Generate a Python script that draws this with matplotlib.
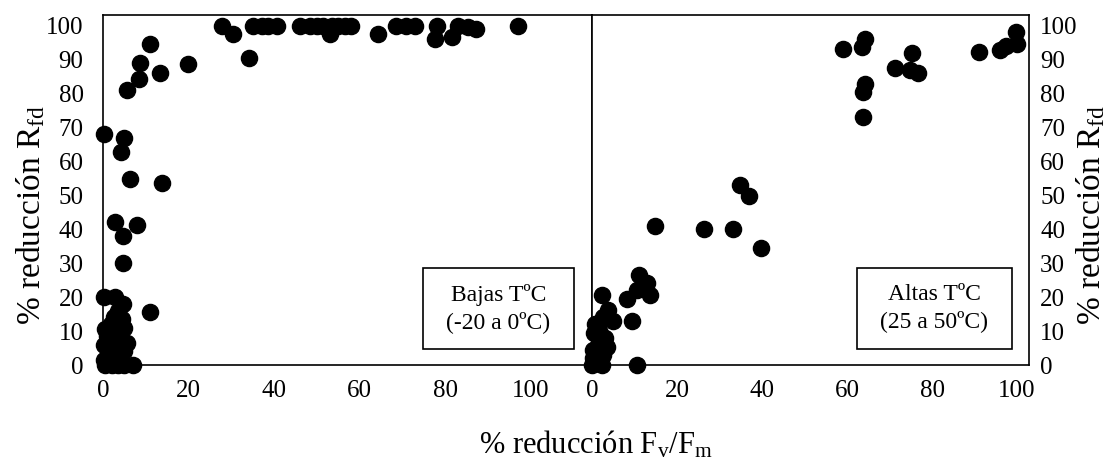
import matplotlib
matplotlib.use("Agg")
import matplotlib.pyplot as plt
from matplotlib.patches import Rectangle

plt.rcParams['font.family'] = ['Liberation Serif', 'DejaVu Serif']
plt.rcParams['mathtext.default'] = 'regular'

# Bajas TºC (-20 a 0ºC)
x_bajas = [27.7, 30.3, 35.1, 37.1, 38.6, 40.6, 34.1, 46, 48.5, 50, 51.5, 53, 53.5, 55, 56.5, 58,
           64.3, 68.5, 70.8, 72.9, 77.6, 78.1, 81.5, 83, 85.4, 87.3, 97,
           11, 8.6, 19.9, 13.3, 8.5, 5.5,
           0.2, 5, 4.2, 6.3, 13.9, 2.8, 8, 4.6, 4.7,
           0.2, 2.8, 4.7, 11, 3.5, 2.5, 4.5, 1.8, 5, 0.5, 3, 1, 4, 2.5, 5.5, 0.3, 3.5, 1.5, 5,
           2.5, 0.3, 4, 0.5, 2, 3.5, 5, 7]
y_bajas = [99.7, 97.5, 99.7, 99.7, 99.7, 99.7, 90.2, 99.7, 99.7, 99.7, 99.7, 97.5, 99.7, 99.7, 99.7, 99.7,
           97.5, 99.7, 99.7, 99.7, 96, 99.7, 96.6, 99.7, 99.5, 98.8, 99.7,
           94.4, 89, 88.7, 85.8, 84.1, 80.9,
           68.1, 66.7, 62.7, 54.7, 53.7, 42.1, 41.2, 38, 30.1,
           20, 20, 18, 15.5, 16, 14, 13.5, 12, 11, 10.5, 10, 8.5, 8, 7, 6.5, 6, 5, 4, 4,
           2.5, 1.5, 1, 0, 0, 0, 0, 0]

# Altas TºC (25 a 50ºC)
x_altas = [59.1, 63.5, 64.3, 64.3, 63.8, 63.8, 71.3, 75.2, 74.8, 76.8, 91.1, 96, 97.5, 99.9, 99.8,
           34.7, 37, 14.8, 26.4, 33.2, 39.7,
           11.1, 12.9, 13.6, 10.5, 8.3, 2.3, 3.8, 9.3, 5, 10.5,
           0.7, 2.7, 1.5, 0.5, 1.9, 3, 3.5, 0.3, 1.5, 2.5, 0.2, 1.2, 2.3, 0]
y_altas = [93.1, 93.6, 95.8, 82.8, 80.4, 73, 87.4, 91.9, 86.8, 85.8, 92.2, 92.8, 93.8, 94.6, 98,
           53.1, 49.7, 40.9, 39.9, 39.9, 34.3,
           26.5, 24, 20.6, 22, 19.4, 20.6, 16.2, 12.9, 12.9, 0,
           12.2, 14.2, 11, 9.3, 9.3, 8, 5.4, 4.4, 6, 3, 2, 0.5, 0, 0]

yticks = list(range(0, 101, 10))
xticks = list(range(0, 101, 20))

fig = plt.figure(figsize=(11.12, 4.61), dpi=100)
ax1 = fig.add_axes([103 / 1112, 1 - 365 / 461, 489 / 1112, 350 / 461])
ax2 = fig.add_axes([592 / 1112, 1 - 365 / 461, 437 / 1112, 350 / 461])

ax1.scatter(x_bajas, y_bajas, s=135, color='black', clip_on=False, zorder=3)
ax2.scatter(x_altas, y_altas, s=135, color='black', clip_on=False, zorder=3)

ax1.set_xlim(0, 114.3)
ax2.set_xlim(0, 102.8)
for ax in (ax1, ax2):
    ax.set_ylim(0, 103)
    ax.set_xticks(xticks)
    ax.set_yticks(yticks)
    ax.tick_params(length=0, labelsize=18)
    ax.tick_params(axis='x', pad=11)
    for sp in ax.spines.values():
        sp.set_linewidth(1.2)

ax1.tick_params(axis='y', pad=14)
ax2.yaxis.tick_right()
ax2.tick_params(axis='y', pad=8)

ax1.add_patch(Rectangle((0.654, 0.046), 0.309, 0.231, transform=ax1.transAxes,
                        fill=False, lw=1.2, ec='black', zorder=4))
ax1.text(0.8085, 0.162, 'Bajas TºC\n(-20 a 0ºC)', transform=ax1.transAxes,
         ha='center', va='center', fontsize=17, linespacing=1.3)
ax2.add_patch(Rectangle((0.606, 0.046), 0.355, 0.231, transform=ax2.transAxes,
                        fill=False, lw=1.2, ec='black', zorder=4))
ax2.text(0.7835, 0.162, 'Altas TºC\n(25 a 50ºC)', transform=ax2.transAxes,
         ha='center', va='center', fontsize=17, linespacing=1.3)

fig.text(31 / 1112, 1 - 215 / 461, '% reducción R$_{fd}$', rotation=90,
         ha='center', va='center', fontsize=24)
fig.text(1091 / 1112, 1 - 215 / 461, '% reducción R$_{fd}$', rotation=90,
         ha='center', va='center', fontsize=24)
fig.text(596 / 1112, 1 - 445 / 461, '% reducción F$_{v}$/F$_{m}$',
         ha='center', va='center', fontsize=22)

fig.savefig('out.png', dpi=100)
